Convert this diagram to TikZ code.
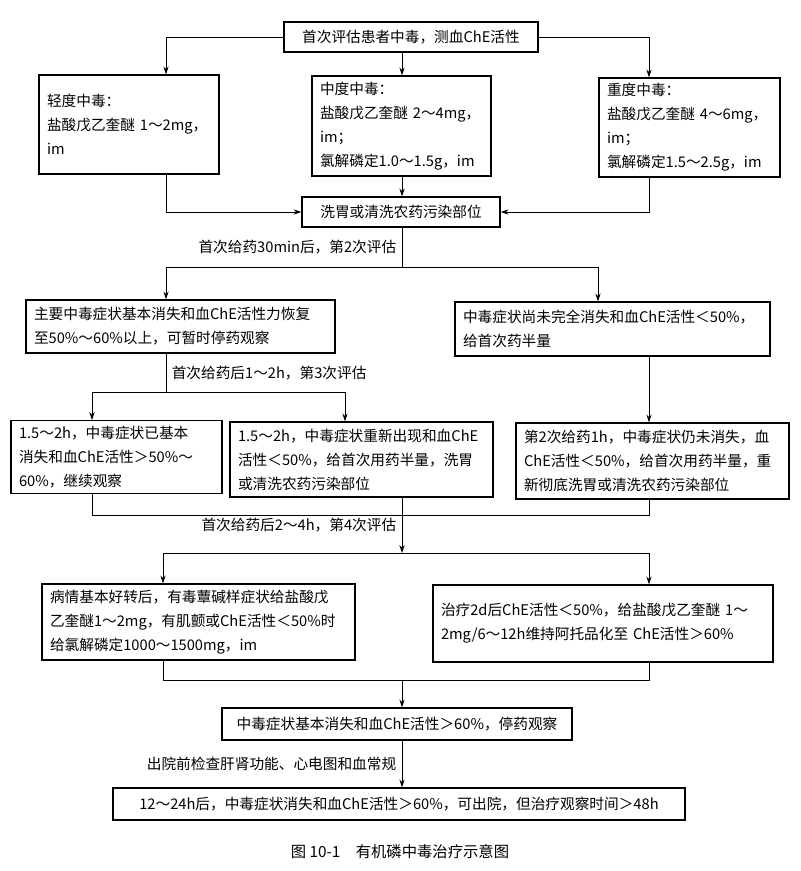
\documentclass[tikz,border=0pt]{standalone}
\usepackage{fontspec}
\setmainfont{Noto Sans CJK SC}
\usepackage{tikz}
\usetikzlibrary{arrows.meta}

\begin{document}
\begin{tikzpicture}[
  x=0.75pt, y=-0.75pt,
  box/.style={rectangle, draw, line width=0.9pt, inner xsep=6pt, inner ysep=4pt, align=left, font=\fontsize{11pt}{18pt}\selectfont},
  single/.style={box, align=center},
  lbl/.style={font=\fontsize{11pt}{14pt}\selectfont, inner sep=4pt},
  arrow/.style={-{Stealth[length=6pt,width=4pt]}, line width=0.7pt},
  link/.style={line width=0.7pt}
]
  \useasboundingbox (0,0) rectangle (800,871);

  % columns and split levels
  \coordinate (xL) at (166,0);
  \coordinate (xM) at (402,0);
  \coordinate (xR) at (649,0);
  \coordinate (xB) at (598,0);
  \coordinate (xC) at (92,0);
  \coordinate (xD) at (345,0);
  \coordinate (xF) at (163,0);
  \coordinate (s1) at (402,267);
  \coordinate (s2) at (166,392);
  \coordinate (m1) at (402,515);
  \coordinate (s3) at (402,553);
  \coordinate (m2) at (402,680);

  \node[single, text width=178.5pt, minimum height=22.5pt] (first) at (411,37) {首次评估患者中毒，测血ChE活性};
  \node[box, text width=123pt, minimum height=74.25pt] (light) at (129,124.5) {轻度中毒：\\盐酸戊乙奎醚~1～2mg，\\im\par\vspace*{18pt}};
  \node[box, text width=122.25pt, minimum height=75pt] (moderate) at (401.5,126) {中度中毒：\\盐酸戊乙奎醚~2～4mg，\\im；\\氯解磷定1.0～1.5g，im};
  \node[box, text width=123.75pt, minimum height=74.25pt] (severe) at (689.5,127.5) {重度中毒：\\盐酸戊乙奎醚~4～6mg，\\im；\\氯解磷定1.5～2.5g，im};
  \node[single, text width=136.5pt, minimum height=22.5pt] (wash) at (401,212) {洗胃或清洗农药污染部位};

  \node[box, text width=219.75pt, minimum height=39.75pt] (relief) at (180.5,326.5) {主要中毒症状基本消失和血ChE活性力恢复\\至50\%～60\%以上，可暂时停药观察};
  \node[box, text width=224.25pt, minimum height=40.5pt] (persist) at (612.5,329) {中毒症状尚未完全消失和血ChE活性＜50\%，\\给首次药半量};

  \node[box, text width=146.25pt, minimum height=52.5pt] (observe) at (116.5,457) {1.5～2h，中毒症状已基本\\消失和血ChE活性＞50\%～\\60\%，继续观察};
  \node[box, text width=185.25pt, minimum height=56.25pt] (relapse) at (361.5,459.5) {1.5～2h，中毒症状重新出现和血ChE\\活性＜50\%，给首次用药半量，洗胃\\或清洗农药污染部位};
  \node[box, text width=192.75pt, minimum height=57pt] (second) at (652.5,461) {第2次给药1h，中毒症状仍未消失，血\\ChE活性＜50\%，给首次用药半量，重\\新彻底洗胃或清洗农药污染部位};

  \node[box, text width=222.75pt, minimum height=57pt] (better) at (198.5,622) {病情基本好转后，有毒蕈碱样症状给盐酸戊\\乙奎醚1～2mg，有肌颤或ChE活性＜50\%时\\给氯解磷定1000～1500mg，im};
  \node[box, text width=243pt, minimum height=57.75pt] (twoday) at (603,623.5) {治疗2d后ChE活性＜50\%，给盐酸戊乙奎醚 1～\\2mg/6～12h维持阿托品化至 ChE活性＞60\%\par\vspace*{18pt}};

  \node[single, text width=250.5pt, minimum height=24pt] (stop) at (397,724) {中毒症状基本消失和血ChE活性＞60\%，停药观察};
  \node[single, text width=417pt, minimum height=24pt] (discharge) at (399,804) {12～24h后，中毒症状消失和血ChE活性＞60\%，可出院，但治疗观察时间＞48h};

  \node[font=\fontsize{11.5pt}{14pt}\selectfont] (caption) at (400,852) {图 10-1\quad 有机磷中毒治疗示意图};

  % first assessment
  \draw[arrow] (first.west) -| (xL |- light.north);
  \draw[arrow] (xM |- first.south) -- (xM |- moderate.north);
  \draw[arrow] (first.east) -| (xR |- severe.north);
  \draw[arrow] (xL |- light.south) |- (wash.west);
  \draw[arrow] (xM |- moderate.south) -- (xM |- wash.north);
  \draw[arrow] (xR |- severe.south) |- (wash.east);

  % second assessment
  \draw[link] (xM |- wash.south) -- node[lbl, left] {首次给药30min后，第2次评估} (s1);
  \draw[arrow] (s1) -| (xL |- relief.north);
  \draw[arrow] (s1) -| (xB |- persist.north);

  % third assessment
  \draw[link] (xL |- relief.south) -- node[lbl, right] {首次给药后1～2h，第3次评估} (s2);
  \draw[arrow] (s2) -| (xC |- observe.north);
  \draw[arrow] (s2) -| (xD |- relapse.north);
  \draw[arrow] (xR |- persist.south) -- (xR |- second.north);

  % fourth assessment
  \draw[link] (xC |- observe.south) |- (xR |- m1) -- (xR |- second.south);
  \draw[arrow] (xM |- relapse.south) -- node[lbl, left] {首次给药后2～4h，第4次评估} (s3);
  \draw[arrow] (s3) -| (xF |- better.north);
  \draw[arrow] (s3) -| (xR |- twoday.north);

  % outcome
  \draw[link] (xF |- better.south) |- (xR |- m2) -- (xR |- twoday.south);
  \draw[arrow] (m2) -- (xM |- stop.north);
  \draw[arrow] (xM |- stop.south) -- node[lbl, left] {出院前检查肝肾功能、心电图和血常规} (xM |- discharge.north);
\end{tikzpicture}
\end{document}
